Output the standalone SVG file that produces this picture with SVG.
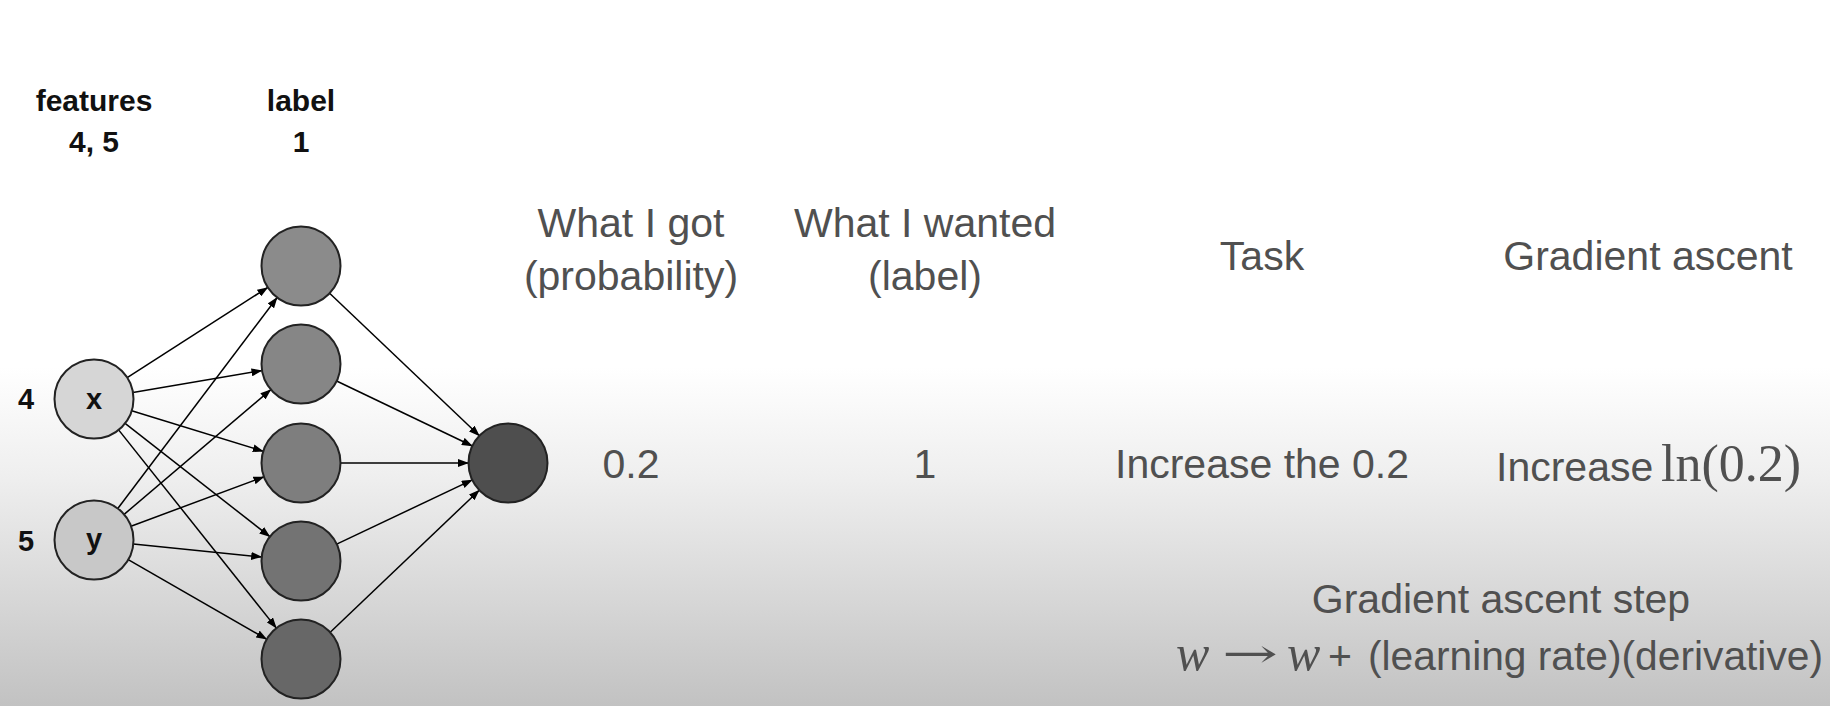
<svg xmlns="http://www.w3.org/2000/svg" width="1830" height="706" viewBox="0 0 1830 706">
<defs>
<linearGradient id="bg" x1="0" y1="0" x2="0" y2="1">
<stop offset="0" stop-color="#ffffff"/>
<stop offset="0.52" stop-color="#ffffff"/>
<stop offset="0.68" stop-color="#eeeeee"/>
<stop offset="1" stop-color="#c2c2c2"/>
</linearGradient>
<marker id="ah" markerUnits="userSpaceOnUse" markerWidth="11" markerHeight="8" refX="10.5" refY="4" orient="auto">
<path d="M0,0 L11,4 L0,8 z" fill="#000"/>
</marker>
<style>
.node{stroke:#222;stroke-width:2}
.edge{stroke:#000;stroke-width:1.5;fill:none;marker-end:url(#ah)}
.b{font-family:"Liberation Sans",Arial,sans-serif;font-weight:bold;fill:#111;text-anchor:middle}
.t{font-family:"Liberation Sans",Arial,sans-serif;fill:#505050;font-size:41px}
.m{font-family:"Liberation Serif","Times New Roman",serif;fill:#505050}
.ar{font-family:"DejaVu Serif",serif;fill:#505050}
.c{text-anchor:middle}
</style>
</defs>
<rect x="0" y="0" width="1830" height="706" fill="url(#bg)"/>

<g id="connectors">
<line class="edge" x1="127.2" y1="377.6" x2="267.8" y2="287.4"/>
<line class="edge" x1="132.9" y1="392.4" x2="262.0" y2="370.6"/>
<line class="edge" x1="131.7" y1="410.7" x2="263.3" y2="451.3"/>
<line class="edge" x1="125.1" y1="423.3" x2="269.9" y2="536.7"/>
<line class="edge" x1="118.6" y1="429.9" x2="276.4" y2="628.1"/>
<line class="edge" x1="117.8" y1="508.5" x2="277.2" y2="297.5"/>
<line class="edge" x1="124.1" y1="514.4" x2="270.9" y2="389.6"/>
<line class="edge" x1="131.0" y1="526.2" x2="264.0" y2="476.8"/>
<line class="edge" x1="133.3" y1="544.0" x2="261.7" y2="557.0"/>
<line class="edge" x1="128.2" y1="559.7" x2="266.8" y2="639.3"/>
<line class="edge" x1="329.6" y1="293.2" x2="479.4" y2="435.8"/>
<line class="edge" x1="336.6" y1="381.0" x2="472.4" y2="446.0"/>
<line class="edge" x1="340.5" y1="463" x2="468.5" y2="463"/>
<line class="edge" x1="336.7" y1="544.1" x2="472.3" y2="479.9"/>
<line class="edge" x1="329.7" y1="632.8" x2="479.3" y2="490.2"/>
</g>

<g id="header-features">
<text class="b" x="94" y="111" font-size="30">features</text>
<text class="b" x="94" y="152" font-size="30">4, 5</text>
</g>
<g id="header-label">
<text class="b" x="301" y="111" font-size="30">label</text>
<text class="b" x="301" y="152" font-size="30">1</text>
</g>

<g id="node-x">
<circle class="node" cx="94" cy="399" r="39.5" fill="#d6d6d6"/>
<text class="b" x="94" y="409" font-size="29">x</text>
<text class="b" x="26" y="409" font-size="29">4</text>
</g>
<g id="node-y">
<circle class="node" cx="94" cy="540" r="39.5" fill="#c8c8c8"/>
<text class="b" x="94" y="549" font-size="29">y</text>
<text class="b" x="26" y="551" font-size="29">5</text>
</g>

<g id="hidden-1"><circle class="node" cx="301" cy="266" r="39.5" fill="#8b8b8b"/></g>
<g id="hidden-2"><circle class="node" cx="301" cy="364" r="39.5" fill="#868686"/></g>
<g id="hidden-3"><circle class="node" cx="301" cy="463" r="39.5" fill="#7e7e7e"/></g>
<g id="hidden-4"><circle class="node" cx="301" cy="561" r="39.5" fill="#737373"/></g>
<g id="hidden-5"><circle class="node" cx="301" cy="659" r="39.5" fill="#676767"/></g>

<g id="output">
<circle class="node" cx="508" cy="463" r="39.5" fill="#4e4e4e"/>
</g>

<g id="col-got">
<text class="t c" x="631" y="237">What I got</text>
<text class="t c" x="631" y="290">(probability)</text>
<text class="t c" x="631" y="478">0.2</text>
</g>
<g id="col-wanted">
<text class="t c" x="925" y="237">What I wanted</text>
<text class="t c" x="925" y="290">(label)</text>
<text class="t c" x="925" y="478">1</text>
</g>
<g id="col-task">
<text class="t c" x="1262" y="270">Task</text>
<text class="t c" x="1262" y="478">Increase the 0.2</text>
</g>
<g id="col-ascent">
<text class="t c" x="1648" y="270">Gradient ascent</text>
<text class="t" x="1496" y="481" font-size="40">Increase</text>
<text class="m" x="1661" y="481" font-size="52">ln(0.2)</text>
</g>
<g id="step">
<text class="t c" x="1501" y="613">Gradient ascent step</text>
<text class="m" x="1176" y="670" font-size="50" font-style="italic">w</text>
<text class="ar" x="1222" y="667" font-size="40" textLength="56" lengthAdjust="spacingAndGlyphs">→</text>
<text class="m" x="1287" y="670" font-size="50" font-style="italic">w</text>
<text class="t" x="1328" y="670" font-size="41">+</text>
<text class="t" x="1368" y="670" font-size="41" textLength="455" lengthAdjust="spacingAndGlyphs">(learning rate)(derivative)</text>
</g>
</svg>
